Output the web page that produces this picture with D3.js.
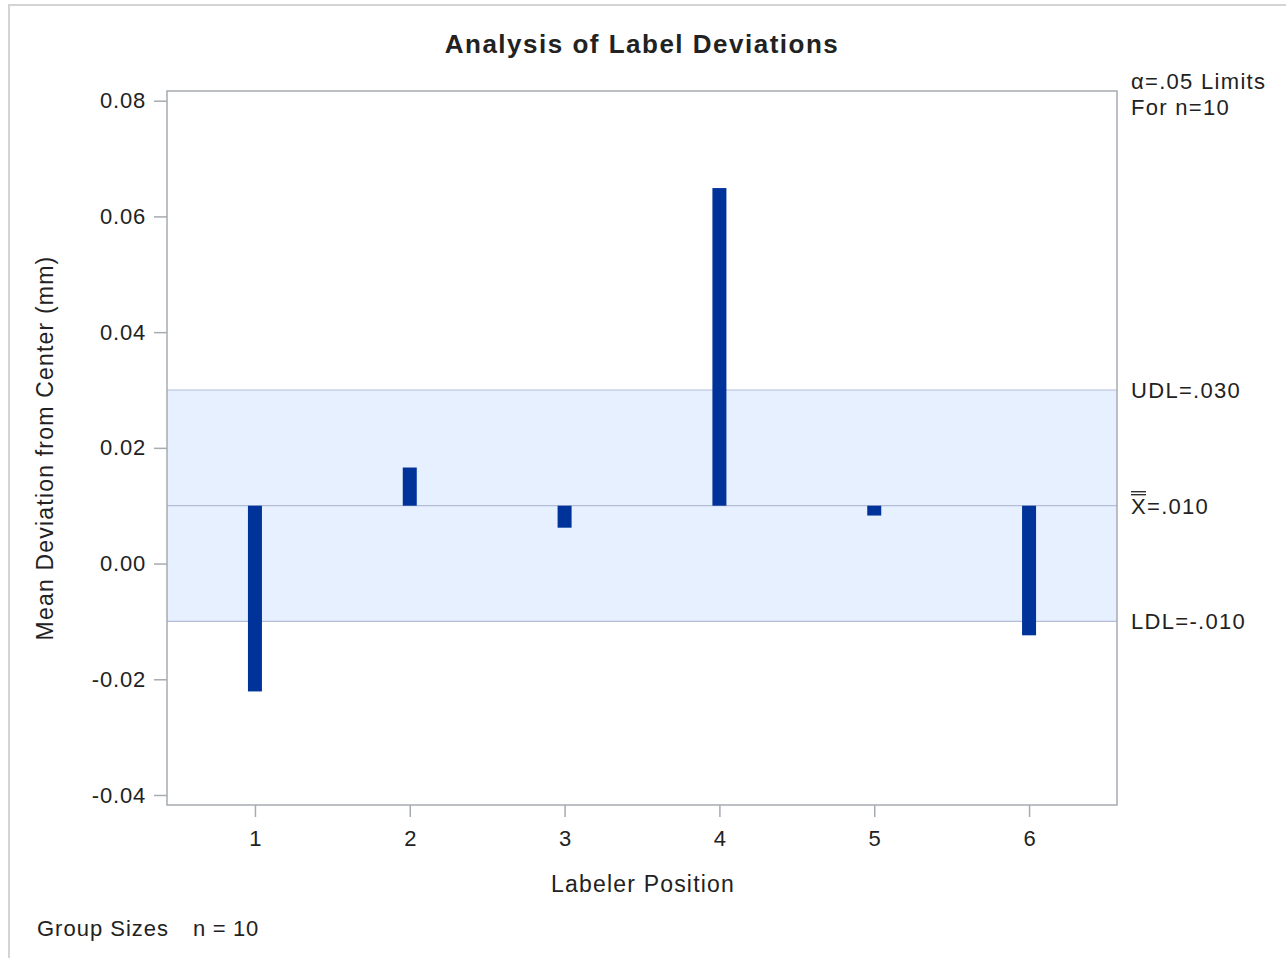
<!DOCTYPE html>
<html><head><meta charset="utf-8">
<script src="https://cdn.jsdelivr.net/npm/d3@7"></script>
<style>body{margin:0;background:#fff;} text{font-family:Arial,"Liberation Sans",sans-serif;fill:#222;}</style>
</head><body>
<svg id="c" width="1286" height="958"></svg>
<script>
const positions = [1, 2, 3, 4, 5, 6];
const meanDeviation = [-0.0221, 0.0166, 0.0062, 0.0649, 0.0083, -0.0124];
const centerLine = 0.010;
const upperLimit = 0.030;
const lowerLimit = -0.010;
const yTicks = [-0.04, -0.02, 0.00, 0.02, 0.04, 0.06, 0.08];
const yTickLabels = ["-0.04", "-0.02", "0.00", "0.02", "0.04", "0.06", "0.08"];
const limitLabels = ["UDL=.030", "=.010", "LDL=-.010"];

const FONT = "Arial, 'Liberation Sans', sans-serif";
const svg = d3.select("#c");
// outer frame
svg.append("path").attr("d","M9,958 V5 H1286").attr("fill","none").attr("stroke","#d4d4d4").attr("stroke-width",2);

const L=167, R=1117, T=91, B=805;
const x = d3.scaleLinear().domain([0.432, 6.568]).range([L, R]);
const y = d3.scaleLinear().domain([-0.04, 0.08]).range([795, 100.7]);

// band
svg.append("rect").attr("x",L).attr("width",R-L).attr("y",y(upperLimit)).attr("height",y(lowerLimit)-y(upperLimit)).attr("fill","#e6f0ff");
[upperLimit, centerLine, lowerLimit].forEach(v=>{
  svg.append("line").attr("x1",L).attr("x2",R).attr("y1",y(v)).attr("y2",y(v)).attr("stroke","#b4bcd8").attr("stroke-width",1.2);
});

// bars
svg.selectAll("rect.bar").data(positions).enter().append("rect").attr("class","bar")
  .attr("x",(d)=>x(d)-7).attr("width",14)
  .attr("y",(d,i)=>y(Math.max(centerLine, meanDeviation[i])))
  .attr("height",(d,i)=>Math.abs(y(meanDeviation[i])-y(centerLine)))
  .attr("fill","#003399");

// frame
svg.append("rect").attr("x",L).attr("y",T).attr("width",R-L).attr("height",B-T).attr("fill","none").attr("stroke","#a6abb0").attr("stroke-width",1.5);

// y axis
const ya = svg.append("g").attr("transform",`translate(${L},0)`)
  .call(d3.axisLeft(y).tickValues(yTicks).tickSize(13).tickPadding(8).tickFormat((d,i)=>yTickLabels[i]));
ya.select(".domain").remove();
ya.selectAll("line").attr("stroke","#a6abb0").attr("stroke-width",1.5);
ya.selectAll("text").attr("font-size","22px").attr("fill","#222").style("font-family",FONT).style("letter-spacing","0.8px");

// x axis
const xa = svg.append("g").attr("transform",`translate(0,${B})`)
  .call(d3.axisBottom(x).tickValues(positions).tickSize(12).tickPadding(13).tickFormat(d3.format("d")));
xa.select(".domain").remove();
xa.selectAll("line").attr("stroke","#a6abb0").attr("stroke-width",1.5);
xa.selectAll("text").attr("font-size","22px").attr("fill","#222").style("font-family",FONT);

// title
svg.append("text").attr("x",642).attr("y",53).attr("text-anchor","middle").attr("font-size","26px").attr("font-weight","bold").style("letter-spacing","1.5px").text("Analysis of Label Deviations");
// axis labels
svg.append("text").attr("x",643).attr("y",892).attr("text-anchor","middle").attr("font-size","23px").style("letter-spacing","1.2px").text("Labeler Position");
svg.append("text").attr("transform","translate(53,448) rotate(-90)").attr("text-anchor","middle").attr("font-size","23px").style("letter-spacing","1.2px").text("Mean Deviation from Center (mm)");

// right labels
const rl = (t, yy) => svg.append("text").attr("x",1131).attr("y",yy).attr("font-size","22px").style("letter-spacing","1.3px").text(t);
rl("α=.05 Limits", 89);
rl("For n=10", 115);
rl(limitLabels[0], y(upperLimit)+8);
const cl = svg.append("text").attr("x",1131).attr("y",y(centerLine)+8).attr("font-size","22px").style("letter-spacing","1.3px");
cl.append("tspan").text("X");
cl.append("tspan").text(limitLabels[1]);
// double overline
[0,3].forEach(o=>svg.append("line").attr("x1",1131).attr("x2",1146).attr("y1",y(centerLine)-11-o).attr("y2",y(centerLine)-11-o).attr("stroke","#222").attr("stroke-width",1.3));
rl(limitLabels[2], y(lowerLimit)+8);

// group sizes
svg.append("text").attr("x",37).attr("y",936).attr("font-size","22px").style("letter-spacing","1px").text("Group Sizes");
svg.append("text").attr("x",193).attr("y",936).attr("font-size","22px").style("letter-spacing","0.7px").text("n = 10");
</script>
</body></html>
